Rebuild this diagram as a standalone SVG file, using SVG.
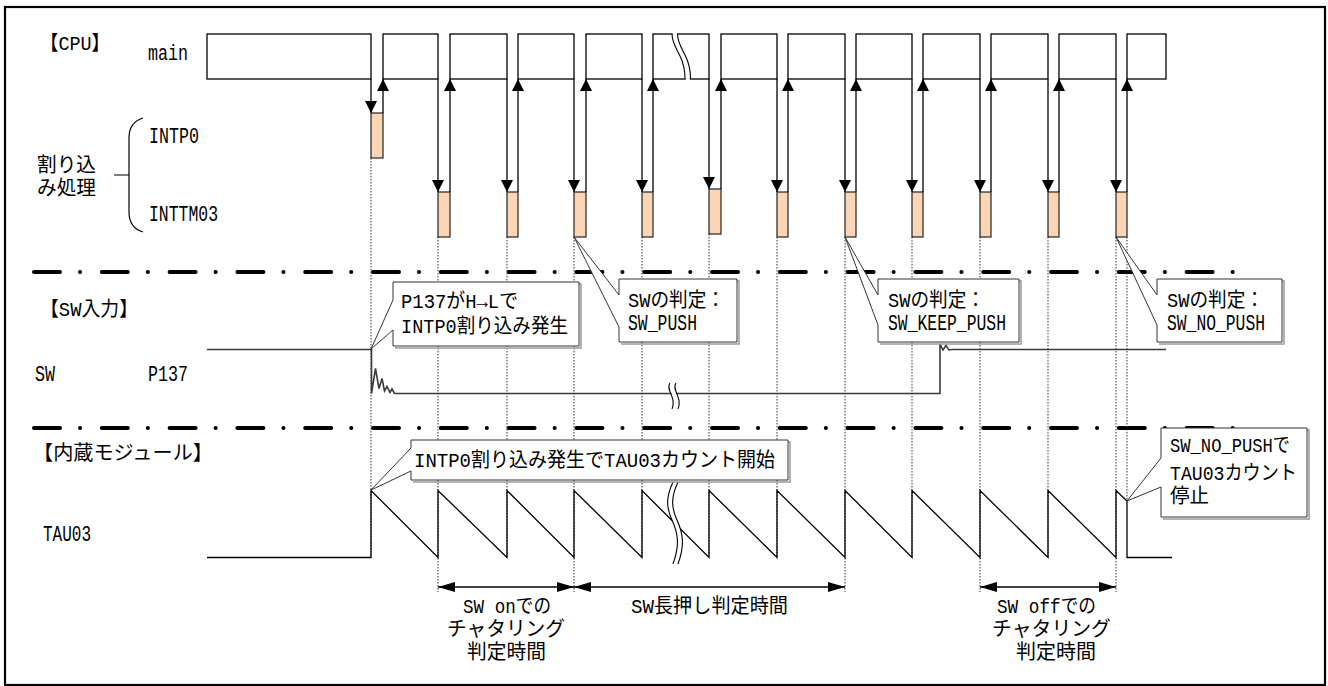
<svg xmlns="http://www.w3.org/2000/svg" width="1328" height="686" viewBox="0 0 1328 686">
<style>
.t{font-family:"Liberation Mono","Noto Sans CJK JP",monospace;font-size:20px;fill:#000}
.l{font-size:22px}
.blk{fill:#fff;stroke:#000;stroke-width:1.3}
.isr{fill:#FBD5B6;stroke:#222;stroke-width:1.2}
.arr{stroke:#000;stroke-width:1.3;fill:none}
.dot{stroke:#333;stroke-width:1;stroke-dasharray:1.5 1.5;fill:none}
.dd{stroke:#000;stroke-width:4;stroke-linecap:round;stroke-dasharray:26 20 0.1 21.7;fill:none}
.co{fill:#fff;stroke:#333;stroke-width:1}
.sh{fill:none;stroke:#9a9a9a;stroke-width:1.5}
.sig{fill:none;stroke:#000;stroke-width:1.3;stroke-linejoin:miter}
.swl{fill:none;stroke:#3a3a3a;stroke-width:1.6}
.brk{fill:none;stroke:#000;stroke-width:1.1}
.wht{fill:none;stroke:#fff;stroke-width:4.2}
</style>
<defs>
<marker id="ah" markerUnits="userSpaceOnUse" markerWidth="12" markerHeight="12" refX="12" refY="6" orient="auto"><path d="M0,0 L12,6 L0,12 Z" fill="#000"/></marker>
<marker id="mh" markerUnits="userSpaceOnUse" markerWidth="18" markerHeight="10" refX="17" refY="5" orient="auto-start-reverse"><path d="M0,0 L17,5 L0,10 Z" fill="#000"/></marker>
</defs>
<rect x="5" y="7" width="1320" height="678" fill="#fff" stroke="#000" stroke-width="2.2"/>

<g id="separators">
<line class="dd" x1="34" y1="272" x2="1236" y2="272"/>
<line class="dd" x1="34" y1="428" x2="1236" y2="428"/>
</g>

<g id="guides">
<path class="dot" d="M371,158V557 M438,237V592 M507,237V557 M574,237V592 M642,237V557 M709,234V557 M777,237V557 M845,237V592 M912,237V557 M980,237V592 M1048,237V557 M1116,237V592 M1127,237V501"/>
</g>

<g id="labels">
<text class="t" x="40" y="50" textLength="70" lengthAdjust="spacingAndGlyphs">【CPU】</text>
<text class="t l" x="148" y="60" textLength="40" lengthAdjust="spacingAndGlyphs">main</text>
<text class="t l" x="149" y="143" textLength="50" lengthAdjust="spacingAndGlyphs">INTP0</text>
<text class="t l" x="149" y="221" textLength="69" lengthAdjust="spacingAndGlyphs">INTTM03</text>
<text class="t" x="37" y="172" textLength="59" lengthAdjust="spacingAndGlyphs">割り込</text>
<text class="t" x="37" y="195" textLength="59" lengthAdjust="spacingAndGlyphs">み処理</text>
<path d="M143,118 C133,121 129,128 129,138 L129,212 C129,222 133,229 143,232 M114,175 H129" fill="none" stroke="#000" stroke-width="1.2"/>
<text class="t" x="40" y="316" textLength="98" lengthAdjust="spacingAndGlyphs">【SW入力】</text>
<text class="t l" x="35" y="381" textLength="20" lengthAdjust="spacingAndGlyphs">SW</text>
<text class="t l" x="148" y="381" textLength="40" lengthAdjust="spacingAndGlyphs">P137</text>
<text class="t" x="33" y="460" textLength="180" lengthAdjust="spacingAndGlyphs">【内蔵モジュール】</text>
<text class="t l" x="43" y="541" textLength="48" lengthAdjust="spacingAndGlyphs">TAU03</text>
</g>

<g id="cpu-main">
<rect class="blk" x="207" y="34" width="164" height="45"/>
<rect class="blk" x="383" y="34" width="55" height="45"/>
<rect class="blk" x="450" y="34" width="57" height="45"/>
<rect class="blk" x="518" y="34" width="56" height="45"/>
<rect class="blk" x="586" y="34" width="56" height="45"/>
<rect class="blk" x="653" y="34" width="56" height="45"/>
<rect class="blk" x="721" y="34" width="56" height="45"/>
<rect class="blk" x="788" y="34" width="57" height="45"/>
<rect class="blk" x="856" y="34" width="56" height="45"/>
<rect class="blk" x="923" y="34" width="57" height="45"/>
<rect class="blk" x="991" y="34" width="57" height="45"/>
<rect class="blk" x="1059" y="34" width="57" height="45"/>
<rect class="blk" x="1127" y="34" width="39" height="45"/>
<path class="wht" d="M674.8,32.5 C674.8,42 678.8,48 682.8,56 S687.8,70 687.8,80.5" stroke-width="5"/>
<path class="brk" d="M672,34 C672,42 676,48 680,56 S685,70 685,79"/>
<path class="brk" d="M677.5,34 C677.5,42 681.5,48 685.5,56 S690.5,70 690.5,79"/>
</g>

<g id="isr-intp0">
<rect class="isr" x="371" y="113" width="12" height="45"/>
</g>
<g id="isr-inttm03">
<rect class="isr" x="438" y="192" width="12" height="45"/>
<rect class="isr" x="507" y="192" width="11" height="45"/>
<rect class="isr" x="574" y="192" width="12" height="45"/>
<rect class="isr" x="642" y="192" width="11" height="45"/>
<rect class="isr" x="709" y="189" width="12" height="45"/>
<rect class="isr" x="777" y="192" width="11" height="45"/>
<rect class="isr" x="845" y="192" width="11" height="45"/>
<rect class="isr" x="912" y="192" width="11" height="45"/>
<rect class="isr" x="980" y="192" width="11" height="45"/>
<rect class="isr" x="1048" y="192" width="11" height="45"/>
<rect class="isr" x="1116" y="192" width="11" height="45"/>
</g>

<g id="connectors">
<line class="arr" x1="371" y1="79" x2="371" y2="113" marker-end="url(#ah)"/>
<line class="arr" x1="383" y1="113" x2="383" y2="79" marker-end="url(#ah)"/>
<line class="arr" x1="438" y1="79" x2="438" y2="192" marker-end="url(#ah)"/>
<line class="arr" x1="450" y1="192" x2="450" y2="79" marker-end="url(#ah)"/>
<line class="arr" x1="507" y1="79" x2="507" y2="192" marker-end="url(#ah)"/>
<line class="arr" x1="518" y1="192" x2="518" y2="79" marker-end="url(#ah)"/>
<line class="arr" x1="574" y1="79" x2="574" y2="192" marker-end="url(#ah)"/>
<line class="arr" x1="586" y1="192" x2="586" y2="79" marker-end="url(#ah)"/>
<line class="arr" x1="642" y1="79" x2="642" y2="192" marker-end="url(#ah)"/>
<line class="arr" x1="653" y1="192" x2="653" y2="79" marker-end="url(#ah)"/>
<line class="arr" x1="709" y1="79" x2="709" y2="189" marker-end="url(#ah)"/>
<line class="arr" x1="721" y1="189" x2="721" y2="79" marker-end="url(#ah)"/>
<line class="arr" x1="777" y1="79" x2="777" y2="192" marker-end="url(#ah)"/>
<line class="arr" x1="788" y1="192" x2="788" y2="79" marker-end="url(#ah)"/>
<line class="arr" x1="845" y1="79" x2="845" y2="192" marker-end="url(#ah)"/>
<line class="arr" x1="856" y1="192" x2="856" y2="79" marker-end="url(#ah)"/>
<line class="arr" x1="912" y1="79" x2="912" y2="192" marker-end="url(#ah)"/>
<line class="arr" x1="923" y1="192" x2="923" y2="79" marker-end="url(#ah)"/>
<line class="arr" x1="980" y1="79" x2="980" y2="192" marker-end="url(#ah)"/>
<line class="arr" x1="991" y1="192" x2="991" y2="79" marker-end="url(#ah)"/>
<line class="arr" x1="1048" y1="79" x2="1048" y2="192" marker-end="url(#ah)"/>
<line class="arr" x1="1059" y1="192" x2="1059" y2="79" marker-end="url(#ah)"/>
<line class="arr" x1="1116" y1="79" x2="1116" y2="192" marker-end="url(#ah)"/>
<line class="arr" x1="1127" y1="192" x2="1127" y2="79" marker-end="url(#ah)"/>
<line class="arr" x1="438" y1="587" x2="574" y2="587" stroke-width="1.5" marker-start="url(#mh)" marker-end="url(#mh)"/>
<line class="arr" x1="574" y1="587" x2="845" y2="587" stroke-width="1.5" marker-start="url(#mh)" marker-end="url(#mh)"/>
<line class="arr" x1="980" y1="587" x2="1116" y2="587" stroke-width="1.5" marker-start="url(#mh)" marker-end="url(#mh)"/>
</g>

<g id="sw-signal">
<path class="swl" d="M207,349.5 H371.5 V393.5 L375.5,368.5 L379,388.5 L382,378.5 L384.5,391 L387,386.5 L390,392.5 L392,389 L394.5,393.5 H940 V344 L943,350 L946,345.5 L949,350 L952,349.5 H1166"/>
<path class="wht" d="M673,383 C668,390 680,397 675,409"/>
<path class="brk" d="M670,383 C665,390 677,397 672,409"/>
<path class="brk" d="M676,383 C671,390 683,397 678,409"/>
</g>

<g id="tau03-signal">
<path class="sig" d="M207,557.5 H371 V490.5 L438,557.5 V490.5 L507,557.5 V490.5 L574,557.5 V490.5 L642,557.5 V490.5 L709,557.5 V490.5 L777,557.5 V490.5 L845,557.5 V490.5 L912,557.5 V490.5 L980,557.5 V490.5 L1048,557.5 V490.5 L1116,557.5 V490.5 L1127,501 V557.5 H1172"/>
<path class="wht" d="M675.5,482 C668.5,497 668.5,507 674.5,520 S682.5,545 675.5,564" stroke-width="4.6"/>
<path class="brk" d="M673,482 C666,497 666,507 672,520 S680,545 673,564"/>
<path class="brk" d="M678,482 C671,497 671,507 677,520 S685,545 678,564"/>
</g>

<g id="callout-p137">
<path class="sh" d="M395,284 H581 V348 H395"/>
<path class="co" d="M393,282 H579 V346 H393 V330 L371,349 L393,300 Z"/>
<text class="t" x="401" y="308" textLength="117" lengthAdjust="spacingAndGlyphs">P137がH→Lで</text>
<text class="t" x="401" y="333" textLength="167" lengthAdjust="spacingAndGlyphs">INTP0割り込み発生</text>
</g>

<g id="callout-push">
<path class="sh" d="M621,281 H739 V344 H621"/>
<path class="co" d="M619,279 H737 V342 H619 V327 L574,237 L619,295 Z"/>
<text class="t" x="628" y="307" textLength="97" lengthAdjust="spacingAndGlyphs">SWの判定：</text>
<text class="t l" x="628" y="330" textLength="69" lengthAdjust="spacingAndGlyphs">SW_PUSH</text>
</g>

<g id="callout-keep">
<path class="sh" d="M880,281 H1021 V344 H880"/>
<path class="co" d="M878,279 H1019 V342 H878 V325 L845,237 L878,295 Z"/>
<text class="t" x="888" y="307" textLength="97" lengthAdjust="spacingAndGlyphs">SWの判定：</text>
<text class="t l" x="888" y="330" textLength="118" lengthAdjust="spacingAndGlyphs">SW_KEEP_PUSH</text>
</g>

<g id="callout-nopush">
<path class="sh" d="M1159,281 H1284 V344 H1159"/>
<path class="co" d="M1157,279 H1282 V342 H1157 V325 L1116,237 L1157,295 Z"/>
<text class="t" x="1167" y="307" textLength="97" lengthAdjust="spacingAndGlyphs">SWの判定：</text>
<text class="t l" x="1167" y="330" textLength="98" lengthAdjust="spacingAndGlyphs">SW_NO_PUSH</text>
</g>

<g id="callout-start">
<path class="sh" d="M413,442 H790 V482 H413"/>
<path class="co" d="M411,440 H788 V480 H411 V471 L371,490 L411,448 Z"/>
<text class="t" x="414" y="467" textLength="361" lengthAdjust="spacingAndGlyphs">INTP0割り込み発生でTAU03カウント開始</text>
</g>

<g id="callout-stop">
<path class="sh" d="M1163,430 H1309 V519 H1163"/>
<path class="co" d="M1161,428 H1307 V517 H1161 V487 L1127,501 L1161,458 Z"/>
<text class="t" x="1170" y="452" textLength="120" lengthAdjust="spacingAndGlyphs">SW_NO_PUSHで</text>
<text class="t" x="1170" y="480" textLength="127" lengthAdjust="spacingAndGlyphs">TAU03カウント</text>
<text class="t" x="1170" y="503" textLength="39" lengthAdjust="spacingAndGlyphs">停止</text>
</g>

<g id="period-labels">
<text class="t" x="463" y="613" textLength="88" lengthAdjust="spacingAndGlyphs">SW onでの</text>
<text class="t" x="447" y="636" textLength="118" lengthAdjust="spacingAndGlyphs">チャタリング</text>
<text class="t" x="467" y="659" textLength="79" lengthAdjust="spacingAndGlyphs">判定時間</text>
<text class="t" x="631" y="613" textLength="157" lengthAdjust="spacingAndGlyphs">SW長押し判定時間</text>
<text class="t" x="997" y="613" textLength="99" lengthAdjust="spacingAndGlyphs">SW offでの</text>
<text class="t" x="992" y="636" textLength="119" lengthAdjust="spacingAndGlyphs">チャタリング</text>
<text class="t" x="1016" y="659" textLength="80" lengthAdjust="spacingAndGlyphs">判定時間</text>
</g>
</svg>
